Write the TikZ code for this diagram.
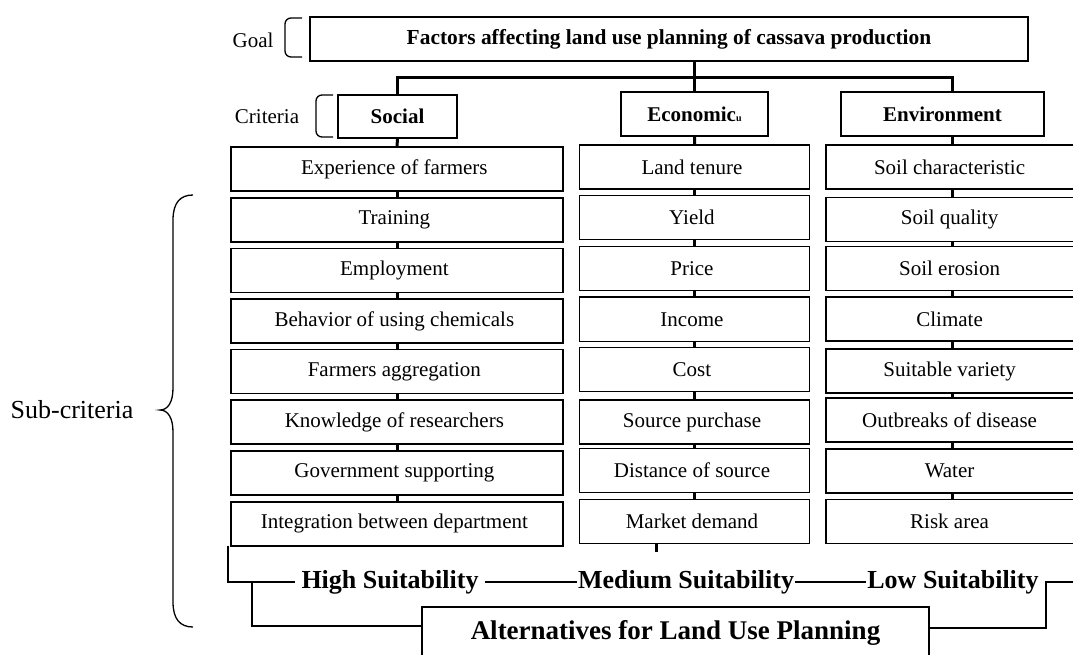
\documentclass[tikz,border=0pt]{standalone}
\usepackage{fontspec}
\setmainfont{Liberation Serif}
\usetikzlibrary{matrix}

\tikzset{
  box/.style={draw, line width=1.6pt, inner sep=0pt, align=center},
  bus/.style={line width=3pt},
  bline/.style={line width=1.8pt},
  lab/.style={font=\fontsize{21}{24}\selectfont},
  suit/.style={font=\bfseries\fontsize{26}{30}\selectfont, inner ysep=0pt, inner xsep=1pt},
}

\begin{document}
\begin{tikzpicture}[x=1pt,y=-1pt]
  \useasboundingbox (0,0) rectangle (1073,655);
  % goal and criteria
  \node[box, minimum width=718pt, minimum height=44pt, font=\bfseries\fontsize{21.4}{24}\selectfont] (goal) at (669,39)
    {Factors affecting land use planning of cassava production};
  \node[box, minimum width=119pt, minimum height=43pt, font=\bfseries\fontsize{21}{24}\selectfont] (soc) at (397.5,116.5) {Social};
  \node[box, minimum width=147pt, minimum height=44pt, font=\bfseries\fontsize{21}{24}\selectfont] (eco) at (694.5,114)
    {Economic{\fontsize{10}{10}\selectfont u}};
  \node[box, minimum width=203pt, minimum height=44pt, font=\bfseries\fontsize{21}{24}\selectfont] (env) at (942.5,114) {Environment};

  \node[lab] (goall) at (253,40) {Goal};
  \node[lab] (critl) at (267,117) {Criteria};
  \draw[line width=1.3pt, rounded corners=6pt] (302,18) -- (285,18) -- (285,57) -- (302,57);
  \draw[line width=1.3pt, rounded corners=6pt] (333,95) -- (316,95) -- (316,137) -- (333,137);

  % sub-criteria
  \matrix (sc) [matrix of nodes, anchor=north west, inner sep=0pt, row sep=2.8pt, column sep=15pt,
    nodes={box, minimum height=44pt, font=\fontsize{21}{24}\selectfont},
    column 1/.style={nodes={minimum width=332pt}},
    column 2/.style={nodes={minimum width=230pt}},
    column 3/.style={nodes={minimum width=252pt}}] at (230,144)
  {
    Experience of farmers & Land tenure & Soil characteristic \\
    Training & Yield & Soil quality \\
    Employment & Price & Soil erosion \\
    Behavior of using chemicals & Income & Climate \\
    Farmers aggregation & Cost & Suitable variety \\
    Knowledge of researchers & Source purchase & Outbreaks of disease \\
    Government supporting & Distance of source & Water \\
    Integration between department & Market demand & Risk area \\
  };

  \draw[bus] (goal.south -| sc-1-2.north) -- (sc-1-2.north |- eco.north);
  \draw[bus] (soc.north) -- ++(0,-17) -| (sc-1-3.north |- env.north);
  \draw[bus] (soc.south) -- (sc-1-1.north);
  \draw[bus] (eco.south) -- (sc-1-2.north);
  \draw[bus] (sc-1-3.north |- env.south) -- (sc-1-3.north);
  \foreach \c in {1,2,3}
    \foreach \r [count=\n from 2] in {1,...,7}
      \draw[bus] (sc-\r-\c.south) -- (sc-\n-\c.north);
  \draw[bus] ([xshift=-38pt]sc-8-2.south) -- ++(0,8);

  \draw[line width=1.3pt] (193,195) .. controls (180,195) and (173,203) .. (173,220) -- (173,388)
    .. controls (173,402) and (168,410) .. (160,410) .. controls (168,410) and (173,418) .. (173,432)
    -- (173,602) .. controls (173,619) and (180,627) .. (193,627);
  \node[font=\fontsize{26}{30}\selectfont] (subl) at (72,410) {Sub-criteria};

  % alternatives
  \node[suit, inner xsep=6pt] (hs) at (390,582) {High Suitability};
  \node[suit] (ms) at (686,582) {Medium Suitability};
  \node[suit] (ls) at (953,582) {Low Suitability};
  \node[box, minimum width=507pt, minimum height=52pt, font=\bfseries\fontsize{27}{30}\selectfont] (alt) at (675.5,633)
    {Alternatives for Land Use Planning};

  \coordinate (lfree) at (228,546);
  \coordinate (hj) at (252,582);
  \coordinate (lj) at (1046,582);
  \coordinate (rfree) at (1080,582);
  \draw[bline] (lfree) |- (hs.west);
  \draw[bline] (hs.east) -- (ms.west);
  \draw[bline] (ms.east) -- (ls.west);
  \draw[bline] (hj) |- ([yshift=7pt]alt.west);
  \draw[bline] (rfree) -- (lj) |- ([yshift=5pt]alt.east);
\end{tikzpicture}
\end{document}
